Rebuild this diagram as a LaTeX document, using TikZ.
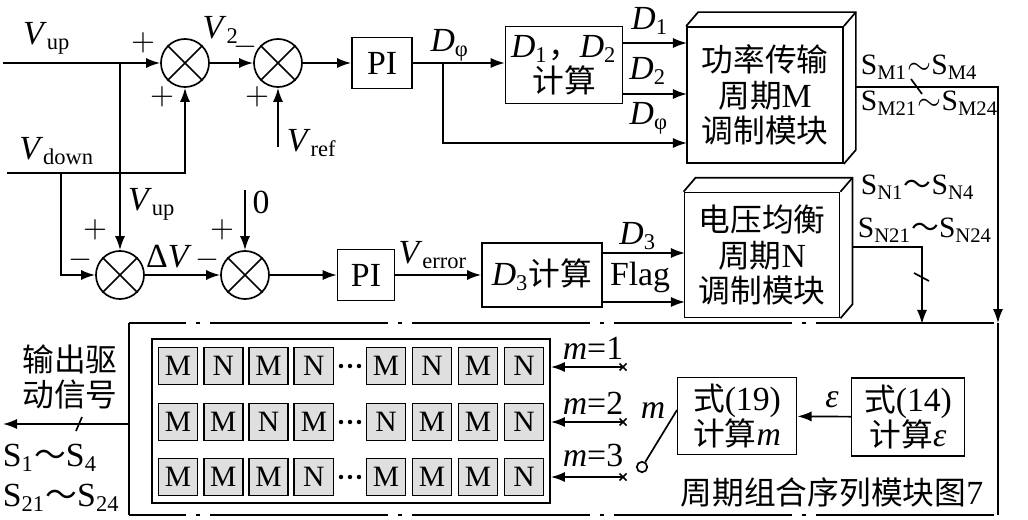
\documentclass[tikz,border=0pt]{standalone}
\usepackage{fontspec}
\setmainfont{Liberation Serif}
\newfontfamily\cjk[Scale=0.94]{Noto Sans CJK SC}
\usepackage{tikz}
\usetikzlibrary{calc}
\usetikzlibrary{arrows.meta}
\tikzset{every picture/.style={line width=0.6pt},
  sumnode/.style={circle,draw,minimum size=0.6cm,inner sep=0pt},
  blk/.style={draw,fill=white,inner sep=0pt,align=center},
  cell/.style={draw,fill=gray!25,minimum width=0.49cm,minimum height=0.46cm,inner sep=0pt,font=\fontsize{10.5}{11}\selectfont},
  arr/.style={-{Latex[length=5pt,width=3.6pt]}},
  chainline/.style={dash pattern=on 2.225cm off 0.125cm on 0.05cm off 0.125cm,dash phase=1.5125cm},
  lbl/.style={inner sep=1pt},
  sign/.style={inner sep=0pt,font=\fontsize{10.5}{11}\selectfont},
  sname/.style={anchor=west,inner sep=0pt,font=\fontsize{10.5}{12}\selectfont}}

\begin{document}
\begin{tikzpicture}[x=0.0125cm,y=-0.0125cm,font=\fontsize{12}{12.5}\selectfont]
\useasboundingbox (0,0) rectangle (1028,520);

% summing points
\node (s1) [sumnode] at (185,63) {};
\node (s2) [sumnode] at (278,63) {};
\node (s3) [sumnode] at (120,275) {};
\node (s4) [sumnode] at (245,275) {};
\foreach \s in {s1,s2,s3,s4} {
  \draw (\s.north west) -- (\s.south east);
  \draw (\s.north east) -- (\s.south west);
}

% blocks
\node (pi1) [blk,minimum width=0.75cm,minimum height=0.64cm] at (382,63) {PI};
\node (d12) [blk,minimum width=1.46cm,minimum height=0.96cm] at (564,65) {\textit{D}\textsubscript{1}{\cjk ，}\textit{D}\textsubscript{2}\\{\cjk 计算}};
\node (mblk) [blk,minimum width=1.95cm,minimum height=1.7cm] at (765,95) {{\cjk 功率传输}\\{\cjk 周期}M\\{\cjk 调制模块}};
\node (pi2) [blk,minimum width=0.71cm,minimum height=0.64cm] at (366,275) {PI};
\node (d3) [blk,minimum width=1.5cm,minimum height=0.8cm] at (542,275) {\textit{D}\textsubscript{3}{\cjk 计算}};
\node (nblk) [blk,minimum width=1.94cm,minimum height=1.56cm] at (762,255) {{\cjk 电压均衡}\\{\cjk 周期}N\\{\cjk 调制模块}};
\foreach \b in {mblk,nblk} {
  \draw (\b.north west) -- ++(12,-14) -- ($(\b.north east)+(12,-14)$) -- ($(\b.south east)+(12,-14)$) -- (\b.south east);
  \draw (\b.north east) -- ++(12,-14);
}

% period combination module
\node (outer) [minimum width=10.8375cm,minimum height=2.375cm,inner sep=0pt] at (563.5,419) {};
\draw[chainline] (outer.north west) -- (outer.north east);
\draw[chainline] (outer.south west) -- (outer.south east);
\draw (outer.north west) -- (outer.south west) (outer.north east) -- (outer.south east);
\node (inner) [draw,minimum width=4.975cm,minimum height=2.05cm,inner sep=0pt] at (351,421) {};
\foreach \r/\y/\cells in {1/366/{M,N,M,N,M,N,M,N},2/422/{M,M,N,M,N,M,M,N},3/477/{M,M,M,N,M,M,M,N}} {
  \foreach \t [count=\i] in \cells {
    \pgfmathsetmacro\cx{\i<5 ? 178+(\i-1)*45.3 : 386+(\i-5)*46}
    \node (c\r\i) [cell] at (\cx,\y) {\t};
  }
  \foreach \dx in {-9,0,9}
    \fill (350+\dx,\y) circle (0.028cm);
}
\foreach \y/\ly/\k in {367/348/1,422/403/2,477/455/3} {
  \coordinate (x\k) at (623,\y);
  \draw (x\k) +(-3.5,-3.5) -- +(3.5,3.5) +(-3.5,3.5) -- +(3.5,-3.5);
  \draw[arr] (x\k) -- (inner.east |- x\k);
  \node (lm\k) [lbl] at (593,\ly) {\textit{m}=\k};
}
\node (sw) [circle,draw,minimum size=0.13cm,inner sep=0pt] at (642,467) {};
\coordinate (swt) at (677,410);
\draw (sw.57) -- (swt);
\node (lm) [lbl] at (653,411) {\textit{m}};
\node (eq19) [blk,minimum width=1.49cm,minimum height=0.96cm] at (737,416) {{\cjk 式}(19)\\{\cjk 计算}\textit{m}};
\node (eq14) [blk,minimum width=1.41cm,minimum height=0.97cm] at (908,417) {{\cjk 式}(14)\\{\cjk 计算}\textit{ε}};
\draw[arr] (eq14) -- (eq19);
\node (leps) [lbl] at (832,400) {\textit{ε}};
\node (ltitle) [lbl] at (832,492) {{\cjk 周期组合序列模块图}7};

% upper loop
\coordinate (vin) at (3,63);
\coordinate (bup) at (120,63);
\coordinate (vdn) at (7,173);
\coordinate (bdn) at (61,173);
\coordinate (vref) at (278,147);
\draw[arr] (vin) -- (s1);
\draw[arr] (bup) -- (s3);
\draw[arr] (vdn) -| (s1);
\draw[arr] (bdn) |- (s3);
\draw[arr] (vref) -- (s2);
\draw[arr] (s1) -- (s2);
\draw[arr] (s2) -- (pi1);
\draw[arr] (pi1) -- (pi1 -| d12.west);
\coordinate (bphi) at (443,63);
\coordinate (md1) at (687,43);
\coordinate (md2) at (687,94);
\coordinate (md3) at (687,143);
\draw[arr] (d12.east |- md1) -- (md1);
\draw[arr] (d12.east |- md2) -- (md2);
\draw[arr] (bphi) |- (md3);

% lower loop
\coordinate (zero) at (245,190);
\draw[arr] (zero) -- (s4);
\draw[arr] (s3) -- (s4);
\draw[arr] (s4) -- (pi2);
\draw[arr] (pi2) -- (d3);
\coordinate (nd1) at (685,253);
\coordinate (nd2) at (685,302);
\draw[arr] (d3.east |- nd1) -- (nd1);
\draw[arr] (d3.east |- nd2) -- (nd2);

% switching signals
\coordinate (smo) at (855,87);
\coordinate (sno) at (852,247);
\coordinate (sni) at (922,324);
\coordinate (out) at (3,424);
\draw[arr] (smo) -| (outer.north east);
\draw[arr] (sno) -| (sni);
\draw[arr] (outer.west |- out) -- (out);
\draw (911,79) -- (922,94);
\draw (914,273) -- (929,281);
\draw (76,431) -- (82,417);

% labels
\node (lvup) [lbl] at (47,38) {\textit{V}\textsubscript{up}};
\node (lp1) [sign] at (143,43) {$+$};
\node (lp2) [sign] at (162,97) {$+$};
\node (lv2) [lbl] at (221,30) {\textit{V}\textsubscript{2}};
\node (ln1) [sign] at (245,47) {$-$};
\node (lp3) [sign] at (257,97) {$+$};
\node (lvref) [lbl] at (312,143) {\textit{V}\textsubscript{ref}};
\node (lvdown) [lbl] at (57,151) {\textit{V}\textsubscript{down}};
\node (lvup2) [lbl] at (152,204) {\textit{V}\textsubscript{up}};
\node (lzero) [lbl] at (261,202) {0};
\node (lp4) [sign] at (95,230) {$+$};
\node (ln2) [sign] at (80,260) {$-$};
\node (ldv) [lbl] at (169,257) {Δ\textit{V}};
\node (ln3) [sign] at (207,260) {$-$};
\node (lp5) [sign] at (222,230) {$+$};
\node (ldphi) [lbl] at (450,45) {\textit{D}\textsubscript{φ}};
\node (ld1) [lbl] at (650,21) {\textit{D}\textsubscript{1}};
\node (ld2) [lbl] at (648,71) {\textit{D}\textsubscript{2}};
\node (ldphi2) [lbl] at (649,118) {\textit{D}\textsubscript{φ}};
\node (lverr) [lbl] at (433,255) {\textit{V}\textsubscript{error}};
\node (ld3) [lbl] at (638,236) {\textit{D}\textsubscript{3}};
\node (lflag) [lbl] at (640,277) {Flag};
\node (lsm1) [sname] at (860,67) {S\textsubscript{M1}$\sim$S\textsubscript{M4}};
\node (lsm2) [sname] at (860,103) {S\textsubscript{M21}$\sim$S\textsubscript{M24}};
\node (lsn1) [sname] at (860,187) {S\textsubscript{N1}{\cjk ～}S\textsubscript{N4}};
\node (lsn2) [sname] at (857,230) {S\textsubscript{N21}{\cjk ～}S\textsubscript{N24}};
\node (lout) [align=center] at (70,377) {{\cjk 输出驱}\\{\cjk 动信号}};
\node (ls1) [sname,font=\fontsize{12}{12.5}\selectfont] at (2,458) {S\textsubscript{1}{\cjk ～}S\textsubscript{4}};
\node (ls2) [sname,font=\fontsize{12}{12.5}\selectfont] at (2,498) {S\textsubscript{21}{\cjk ～}S\textsubscript{24}};
\end{tikzpicture}
\end{document}
